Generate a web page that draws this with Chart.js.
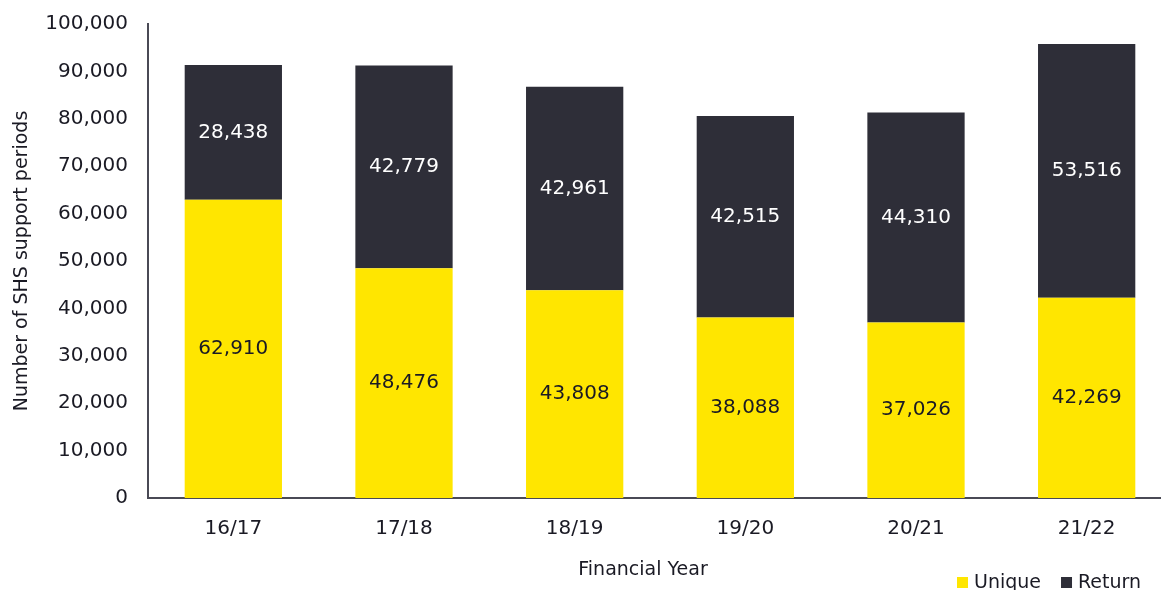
<!DOCTYPE html>
<html>
<head>
<meta charset="utf-8">
<script src="https://cdn.jsdelivr.net/npm/chart.js@4"></script>
<style>
  html, body { margin: 0; padding: 0; background: #fff; overflow: hidden; }
  #wrap { width: 1180px; height: 590px; }
</style>
</head>
<body>
<div id="wrap"><canvas id="myChart" width="1180" height="590"></canvas></div>
<script>
// SHS support periods by financial year
var years = ["16/17", "17/18", "18/19", "19/20", "20/21", "21/22"];
var uniqueVals = [62910, 48476, 43808, 38088, 37026, 42269];
var returnVals = [28438, 42779, 42961, 42515, 44310, 53516];
var yTicks = [0, 10000, 20000, 30000, 40000, 50000, 60000, 70000, 80000, 90000, 100000];

var yellow = "#ffe600";
var dark = "#2e2e38";
var txt = "#1a1a24";
var fontFam = "'DejaVu Sans', sans-serif";
var numSize = 20;   // tick and bar numbers
var wordSize = 19;  // titles and legend

function fmt(v) {
  return Number(v).toLocaleString("en-US");
}

// numbers in the middle of each stacked segment
var barLabels = {
  id: "barLabels",
  afterDatasetsDraw(chart) {
    var ctx = chart.ctx;
    ctx.save();
    ctx.font = numSize + "px " + fontFam;
    ctx.textAlign = "center";
    ctx.textBaseline = "middle";
    chart.data.datasets.forEach(function (ds, i) {
      var meta = chart.getDatasetMeta(i);
      meta.data.forEach(function (bar, j) {
        var p = bar.getCenterPoint();
        ctx.fillStyle = ds.labelColor;
        ctx.fillText(fmt(ds.data[j]), p.x, p.y);
      });
    });
    ctx.restore();
  }
};

// axis titles and the small legend in the bottom right corner
var extras = {
  id: "extras",
  afterDraw(chart) {
    var ctx = chart.ctx;
    var area = chart.chartArea;
    ctx.save();
    ctx.font = wordSize + "px " + fontFam;
    ctx.fillStyle = txt;
    ctx.textAlign = "center";
    ctx.textBaseline = "middle";
    ctx.fillText("Financial Year", 643, 570);

    ctx.save();
    ctx.translate(22, (area.top + area.bottom) / 2);
    ctx.rotate(-Math.PI / 2);
    ctx.fillText("Number of SHS support periods", 0, 0);
    ctx.restore();

    var x = 957;
    ctx.textAlign = "left";
    chart.data.datasets.forEach(function (ds) {
      ctx.fillStyle = ds.backgroundColor;
      ctx.fillRect(x, 577, 11, 11);
      ctx.fillStyle = txt;
      ctx.fillText(ds.label, x + 17, 583);
      x += 17 + ctx.measureText(ds.label).width + 20;
    });
    ctx.restore();
  }
};

new Chart("myChart", {
  type: "bar",
  data: {
    labels: years,
    datasets: [{
      label: "Unique",
      data: uniqueVals,
      backgroundColor: yellow,
      labelColor: txt,
      barPercentage: 0.57,
      categoryPercentage: 1
    }, {
      label: "Return",
      data: returnVals,
      backgroundColor: dark,
      labelColor: "#ffffff",
      barPercentage: 0.57,
      categoryPercentage: 1
    }]
  },
  options: {
    responsive: false,
    animation: false,
    layout: { padding: { top: 24, right: 8, bottom: 0, left: 0 } },
    plugins: {
      legend: { display: false },
      tooltip: { enabled: false }
    },
    scales: {
      x: {
        stacked: true,
        grid: { display: false, drawTicks: false },
        border: { display: true, color: "#4a4a55", width: 2 },
        ticks: { color: txt, font: { family: fontFam, size: numSize }, padding: 19, maxRotation: 0 },
        afterFit(scale) { scale.height = 92; }
      },
      y: {
        stacked: true,
        min: 0,
        max: 100000,
        afterBuildTicks(scale) {
          scale.ticks = yTicks.map(function (v) { return { value: v }; });
        },
        grid: { display: false, drawTicks: false },
        border: { display: true, color: "#4a4a55", width: 2 },
        ticks: {
          color: txt,
          font: { family: fontFam, size: numSize },
          padding: 20,
          callback: function (v) { return fmt(v); }
        },
        afterFit(scale) {
          scale.width = 148;
          scale.paddingTop = 0;
          scale.paddingBottom = 0;
        }
      }
    }
  },
  plugins: [barLabels, extras]
});
</script>
</body>
</html>
